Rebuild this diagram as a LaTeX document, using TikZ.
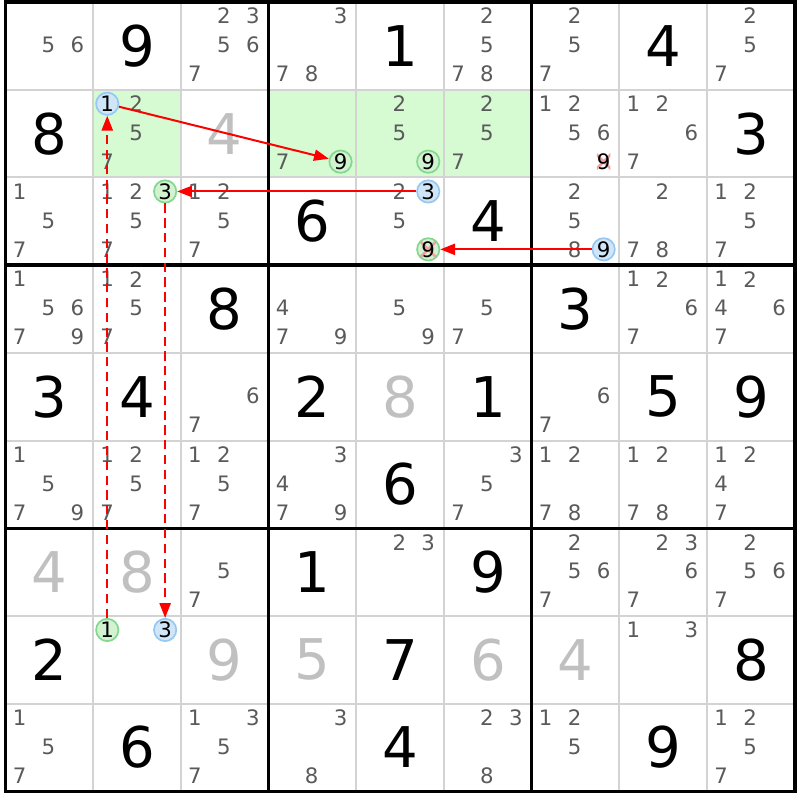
\documentclass[tikz,border=0pt]{standalone}
\usepackage{fontspec}
\setmainfont{DejaVu Sans}
\usetikzlibrary{arrows.meta}
\definecolor{candgray}{HTML}{5A5A5A}
\definecolor{fadegray}{HTML}{C0C0C0}
\definecolor{gridgray}{HTML}{D3D3D3}
\definecolor{cellgreen}{HTML}{D6FAD2}
\definecolor{bluefill}{HTML}{D0E6F8}
\definecolor{blueline}{HTML}{96C8F2}
\definecolor{greenfill}{HTML}{D2F2D2}
\definecolor{greenline}{HTML}{84D88E}
\definecolor{crosspink}{HTML}{F2A0A0}
\definecolor{linkred}{HTML}{FF0000}
\begin{document}
\begin{tikzpicture}[y=-1cm,
  given/.style={font=\fontsize{18.2pt}{20pt}\selectfont, inner sep=0pt},
  faded/.style={given, text=fadegray},
  cand/.style={font=\fontsize{6.9pt}{8pt}\selectfont, text=candgray, inner sep=0pt},
  bluemark/.style={cand, circle, text=black, draw=blueline, fill=bluefill, line width=0.55pt, minimum size=0.255cm},
  greenmark/.style={cand, circle, text=black, draw=greenline, fill=greenfill, line width=0.55pt, minimum size=0.255cm},
  crossed/.style={text=black, path picture={\draw[crosspink, line width=0.85pt]
    (path picture bounding box.center) +(-0.095,-0.095) -- +(0.095,0.095)
    +(-0.095,0.095) -- +(0.095,-0.095);}},
  thingrid/.style={draw=gridgray, line width=0.65pt},
  boxline/.style={draw=black, line width=1.1pt},
  link/.style={draw=linkred, line width=0.65pt, -{Triangle[length=4.8pt,width=3.6pt]}},
  weaklink/.style={link, dash pattern=on 3pt off 1.8pt}]
\useasboundingbox (-0.063,-0.023) rectangle (9.059,9.099);
% highlighted cells
\fill[cellgreen] (1,1) rectangle (2,2);
\fill[cellgreen] (3,1) rectangle (6,2);
% grid
\foreach \i in {1,2,4,5,7,8} {
  \draw[thingrid] (\i,0) -- (\i,9);
  \draw[thingrid] (0,\i) -- (9,\i);
}
\foreach \i in {3,6} {
  \draw[boxline] (\i,0) -- (\i,9);
  \draw[boxline] (0,\i) -- (9,\i);
}
\draw[boxline] (0,0) rectangle (9,9);
% givens
\foreach \c/\r/\v in {2/1/9, 5/1/1, 8/1/4, 1/2/8, 9/2/3, 4/3/6, 6/3/4, 3/4/8, 7/4/3,
    1/5/3, 2/5/4, 4/5/2, 6/5/1, 8/5/5, 9/5/9, 5/6/6, 4/7/1, 6/7/9, 1/8/2, 5/8/7,
    9/8/8, 2/9/6, 5/9/4, 8/9/9}
  \node[given] (g\c\r) at (\c-0.5,\r-0.5) {\v};
\foreach \c/\r/\v in {3/2/4, 5/5/8, 1/7/4, 2/7/8, 3/8/9, 4/8/5, 6/8/6, 7/8/4}
  \node[faded] (g\c\r) at (\c-0.5,\r-0.5) {\v};
% candidates
\foreach \c/\r/\ds in {1/1/{5,6}, 3/1/{2,3,5,6,7}, 4/1/{3,7,8}, 6/1/{2,5,7,8},
    7/1/{2,5,7}, 9/1/{2,5,7}, 2/2/{2,5,7}, 4/2/{7}, 5/2/{2,5}, 6/2/{2,5,7},
    7/2/{1,2,5,6}, 8/2/{1,2,6,7}, 1/3/{1,5,7}, 2/3/{1,2,5,7}, 3/3/{1,2,5,7},
    5/3/{2,5}, 7/3/{2,5,8}, 8/3/{2,7,8}, 9/3/{1,2,5,7}, 1/4/{1,5,6,7,9},
    2/4/{1,2,5,7}, 4/4/{4,7,9}, 5/4/{5,9}, 6/4/{5,7}, 8/4/{1,2,6,7},
    9/4/{1,2,4,6,7}, 3/5/{6,7}, 7/5/{6,7}, 1/6/{1,5,7,9}, 2/6/{1,2,5,7},
    3/6/{1,2,5,7}, 4/6/{3,4,7,9}, 6/6/{3,5,7}, 7/6/{1,2,7,8}, 8/6/{1,2,7,8},
    9/6/{1,2,4,7}, 3/7/{5,7}, 5/7/{2,3}, 7/7/{2,5,6,7}, 8/7/{2,3,6,7},
    9/7/{2,5,6,7}, 8/8/{1,3}, 1/9/{1,5,7}, 3/9/{1,3,5,7}, 4/9/{3,8},
    6/9/{2,3,8}, 7/9/{1,2,5}, 9/9/{1,2,5,7}} {
  \foreach \d in \ds {
    \pgfmathtruncatemacro\dx{mod(\d-1,3)}
    \pgfmathtruncatemacro\dy{(\d-1)/3}
    \node[cand] (k\c\r\d) at (\c-0.84+0.33*\dx,\r-0.84+0.33*\dy) {\d};
  }
}
% marked candidates
\node[bluemark] (k221) at (1.16,1.16) {1};
\node[greenmark] (k429) at (3.82,1.82) {9};
\node[greenmark] (k529) at (4.82,1.82) {9};
\node[cand, crossed] (k729) at (6.82,1.82) {9};
\node[greenmark] (k233) at (1.82,2.16) {3};
\node[bluemark] (k533) at (4.82,2.16) {3};
\node[greenmark, crossed] (k539) at (4.82,2.82) {9};
\node[bluemark] (k739) at (6.82,2.82) {9};
\node[greenmark] (k281) at (1.16,7.16) {1};
\node[bluemark] (k283) at (1.82,7.16) {3};
% links
\draw[link] (k221) -- (k429);
\draw[link] (k533) -- (k233);
\draw[link] (k739) -- (k539);
\draw[weaklink] (k233) -- (k283);
\draw[weaklink] (k281) -- (k221);
\end{tikzpicture}
\end{document}
